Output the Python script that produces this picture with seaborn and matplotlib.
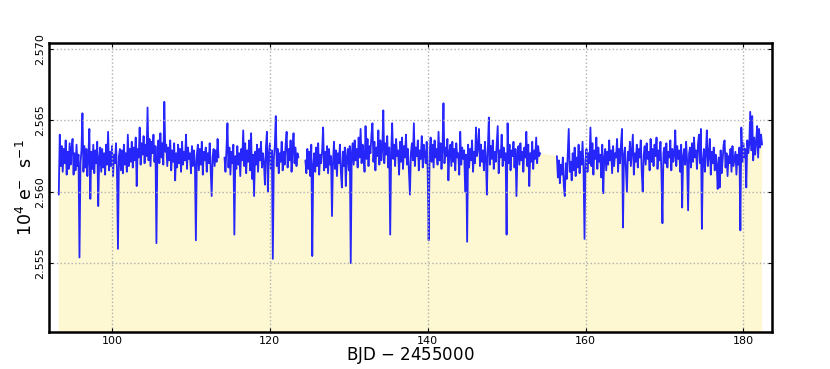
import numpy as np
import pandas as pd
import matplotlib
matplotlib.use("Agg")
import matplotlib.pyplot as plt
import seaborn as sns

# ---- data (flux offsets in units of 1e-4 from 2.560, i.e. 10^4 e-/s) ----
cadence = 0.125
seg_starts = [93.25, 114.25, 124.5, 156.375]
flux_zero = 2.560
flux_step = 1e-4

seg1 = [-2, 40, 18, 32, 14, 30, 20, 36, 12, 28,
        16, 34, 19, 31, 37, 12, 27, 15, 33, 18,
        26, -46, 20, 29, 55, 14, 32, 17, 30, 11,
        25, 44, -5, 28, 16, 33, 13, 29, 20, 35,
        -10, 24, 31, 14, 30, 17, 27, 12, 33, 19,
        42, 15, 28, 18, 32, 11, 26, 20, 34, 16,
        -40, 25, 30, 15, 29, 13, 33, 19, 27, 14,
        40, 18, 30, 21, 35, 17, 31, 22, 38, 4,
        30, 24, 45, 19, 34, 26, 39, 20, 33, 25,
        59, 22, 37, 18, 35, 27, 40, 21, 32, -36,
        29, 36, 20, 41, 24, 34, 19, 63, 28, 33,
        18, 31, 22, 36, 15, 29, 21, 34, 8, 27,
        17, 33, 20, 30, 14, 35, 19, 28, 22, 40,
        16, 31, 23, 27, 13, 32, 18, 29, 21, -34,
        26, 33, 15, 30, 19, 35, 12, 28, 22, 31,
        14, 27, 20, 34, 16, -3, 25, 30, 18, 29,
        21, 37, 24]

seg2 = [24, 14, 30, 48, 17, 31, 12, 28, 20, 33,
        -30, 25, 16, 32, 19, 27, 11, 30, 22, 43,
        18, 34, 13, 29, 21, 36, 15, 41, 9, 26,
        -3, 28, 19, 33, 14, 30, 22, 35, 17, 27,
        20, 5, 31, 42, 0, 26, 34, 16, 29, -47,
        23, 32, 53, 18, 30, 13, 27, 21, 35, 15,
        28, 19, 33, 42, 17, 30, 22, 36, 14, 29,
        41, 20, 31, 18, 27, 24]

seg3 = [22, 13, 30, 16, 28, 11, 33, -45, 19, 27,
        14, 31, 18, 34, 12, 26, 20, 29, 45, 15,
        28, 17, 32, 13, 30, 19, 25, -17, 21, 35,
        16, 29, 11, 27, 20, 33, 14, 3, 28, 18,
        31, 4, 24, 30, 15, 32, -50, 26, 34, 19,
        36, 22, 30, 17, 38, 24, 44, 20, 33, 26,
        14, 46, 23, 37, 18, 32, 27, 40, 48, 21,
        35, 15, 31, 25, 43, 19, 36, 22, 30, 57,
        20, 34, 26, 39, 17, 31, -30, 28, 48, 23,
        33, 18, 37, 25, 29, 12, 35, 21, 38, 16,
        32, 24, 40, 19, 30, 14, -2, 27, 34, 22,
        48, 18, 31, 25, 36, 15, 29, 23, 39, 17,
        33, 26, 20, 35, 14, -34, 28, 38, 21, 33,
        17, 36, 24, 30, 19, 42, 22, 34, 16, 29,
        62, 20, 31, 25, 37, 8, 28, 33, 18, 35,
        21, 30, 15, 34, 24, 27, 12, 42, 19, 31,
        23, 29, 0, 26, -35, 33, 17, 30, 22, 36,
        14, 28, 20, 45, 25, 31, 44, 18, 33, 21,
        29, 15, 35, 24, -2, 30, 52, 19, 32, 23,
        36, 16, 28, 21, 34, 46, 13, 29, 24, 40,
        18, 31, 22, 27, -30, 48, 20, 33, 15, 29,
        25, 35, 17, 30, -3, 26, 32, 19, 34, 22,
        28, 14, 31, 24, 42, 18, 33, 4, 27, 21,
        35, 16, 29, 23, 38, 20, 32, 25, 27]

seg4 = [25, 10, 22, 6, 19, 12, 24, 4, -3, 20,
        9, 26, 44, 14, 21, 8, 27, 15, 31, 11,
        24, 17, 33, 13, 28, 19, 35, 16, -33, 22,
        30, 14, 27, 20, 45, 18, 34, 12, 29, 23,
        38, 16, 31, 21, 26, 10, 33, -1, 24, 30,
        15, 28, 19, 36, 22, 29, 13, 32, 18, 27,
        24, 37, 14, 30, 20, 34, 44, -25, 26, 31,
        16, 0, 28, 22, 35, 18, 29, 40, 12, 27,
        21, 33, 17, 30, 24, 36, 14, 0, 26, 32,
        19, 34, 23, 28, 15, 37, 21, 30, 18, 33,
        25, 38, 16, 29, 22, 35, 13, -22, 27, 31,
        20, 34, 17, 28, 24, 36, 15, 30, 21, 26,
        43, 18, 32, 23, 29, 14, 33, -11, 25, 30,
        19, 35, 22, -13, 27, 31, 17, 34, 21, 38,
        24, 29, 16, 33, 40, 20, 44, -26, 22, 30,
        14, 27, 43, 18, 25, 37, 12, 28, 20, 31,
        15, 26, 19, 2, 24, 3, 29, 13, 22, 33,
        36, 17, 27, 11, 25, 20, 30, 14, 32, 18,
        23, 28, 12, 26, 19, 31, -27, 45, 21, 34,
        24, 30, 3, 36, 27, 33, 56, 29, 53, 22,
        38, 26, 35, 46, 24, 44, 31, 40, 33]

segments = [seg1, seg2, seg3, seg4]

x_ticks = [100, 120, 140, 160, 180]
y_ticks = [2.555, 2.560, 2.565, 2.570]

frames = []
for k, (t0, vals) in enumerate(zip(seg_starts, segments)):
    t = t0 + cadence * np.arange(len(vals))
    frames.append(pd.DataFrame({"t": t,
                                "flux": flux_zero + flux_step * np.asarray(vals, float),
                                "seg": k}))
df = pd.concat(frames, ignore_index=True)

sns.set_style("whitegrid")
plt.rcParams["font.family"] = ["DejaVu Sans"]
plt.rcParams["mathtext.default"] = "regular"

fig = plt.figure(figsize=(8.3, 3.69), dpi=100)
ax = fig.add_axes([0.0594, 0.1011, 0.8704, 0.7816])

ax.fill_between(df["t"], 0, df["flux"], color="#fdf8d2", lw=0, zorder=1)
sns.lineplot(data=df, x="t", y="flux", units="seg", estimator=None, sort=False,
             color="#0000ff", lw=1.3, alpha=0.85, ax=ax, zorder=2)

ax.set_xlim(92.05, 183.6)
ax.set_ylim(2.5502, 2.5704)
ax.set_xticks(x_ticks)
ax.set_xticklabels([str(v) for v in x_ticks], fontsize=8)
ax.set_yticks(y_ticks)
ax.set_yticklabels([f"{v:.3f}" for v in y_ticks], fontsize=8, rotation=90, va="center")

ax.grid(True, color="#b0b0b0", linestyle=":", linewidth=1.0)
ax.set_axisbelow(False)
for s in ax.spines.values():
    s.set_color("black")
    s.set_linewidth(1.8)
    s.set_zorder(5)
ax.tick_params(axis="both", direction="in", length=3, width=0.8, colors="black",
               top=True, right=True, bottom=True, left=True)
ax.tick_params(axis="x", pad=3)
ax.tick_params(axis="y", pad=3)

ax.set_xlabel("BJD $-$ 2455000", fontsize=12, color="black")
ax.set_ylabel("10$^4$ e$^{-}$  s$^{-1}$", fontsize=12.5, color="black")
ax.xaxis.set_label_coords(0.5, -0.081)
ax.yaxis.set_label_coords(-0.033, 0.5)
ax.xaxis.label.set_va("center")
ax.yaxis.label.set_va("center")

fig.savefig("out.png", dpi=100)
